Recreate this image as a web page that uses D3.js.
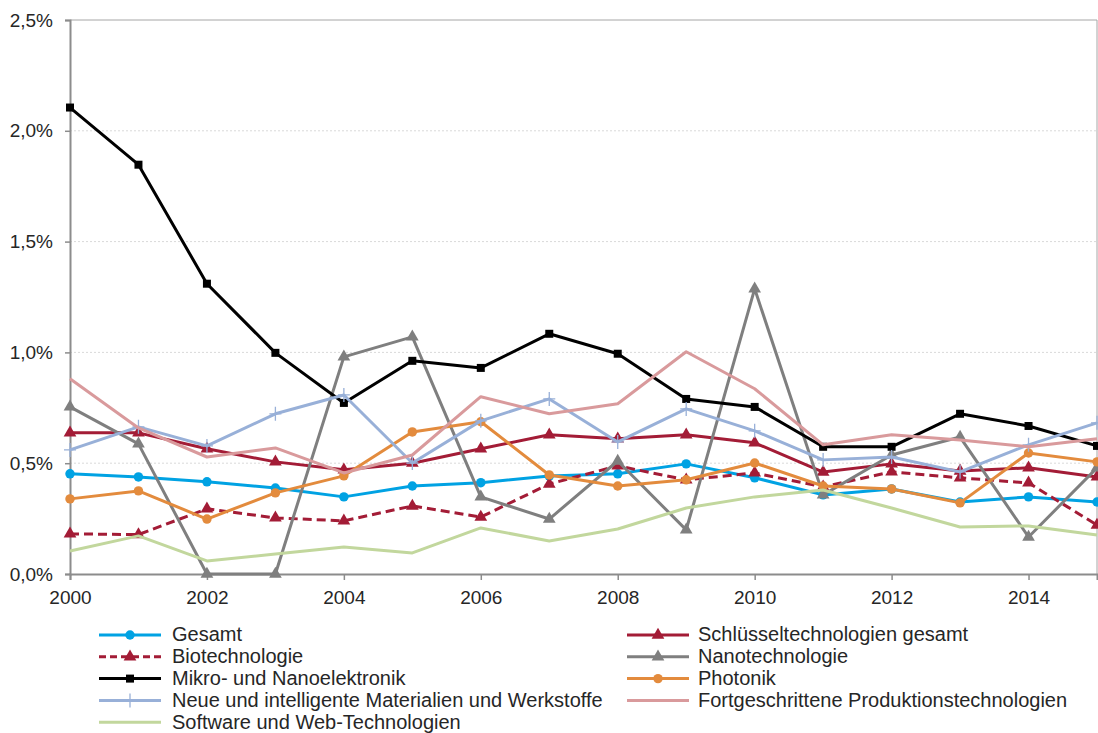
<!DOCTYPE html>
<html lang="de">
<head>
<meta charset="UTF-8">
<title>Schlüsseltechnologien</title>
<script src="https://cdn.jsdelivr.net/npm/d3@7/dist/d3.min.js"></script>
<style>
  body { margin: 0; background: #fff; }
  text { font-family: "Liberation Sans", Arial, sans-serif; }
</style>
</head>
<body>
<script>
// Jahre und Werte (in %)
let years = d3.range(2000, 2016);
let gesamt       = [0.452, 0.438, 0.416, 0.388, 0.348, 0.397, 0.412, 0.442, 0.452, 0.497, 0.434, 0.357, 0.384, 0.325, 0.348, 0.325];
let schluessel   = [0.637, 0.637, 0.565, 0.506, 0.470, 0.500, 0.565, 0.628, 0.610, 0.628, 0.592, 0.460, 0.497, 0.465, 0.479, 0.438];
let biotech      = [0.181, 0.178, 0.294, 0.253, 0.240, 0.307, 0.257, 0.406, 0.488, 0.425, 0.456, 0.393, 0.461, 0.434, 0.411, 0.221];
let nanotech     = [0.754, 0.587, 0.000, 0.000, 0.980, 1.070, 0.348, 0.248, 0.510, 0.199, 1.287, 0.357, 0.537, 0.618, 0.167, 0.479];
let mikro        = [2.105, 1.847, 1.310, 0.998, 0.772, 0.962, 0.930, 1.084, 0.994, 0.790, 0.754, 0.574, 0.574, 0.723, 0.668, 0.578];
let photonik     = [0.339, 0.375, 0.248, 0.366, 0.443, 0.641, 0.687, 0.447, 0.397, 0.425, 0.501, 0.397, 0.384, 0.321, 0.546, 0.506];
let materialien  = [0.560, 0.664, 0.578, 0.723, 0.808, 0.501, 0.691, 0.790, 0.596, 0.745, 0.646, 0.515, 0.528, 0.461, 0.583, 0.682];
let produktion   = [0.881, 0.659, 0.528, 0.569, 0.456, 0.537, 0.800, 0.723, 0.768, 1.003, 0.836, 0.583, 0.628, 0.605, 0.574, 0.610];
let software     = [0.104, 0.172, 0.059, 0.090, 0.122, 0.095, 0.208, 0.149, 0.203, 0.298, 0.348, 0.379, 0.298, 0.212, 0.217, 0.176];

let yTicks = [0, 0.5, 1.0, 1.5, 2.0, 2.5];
let xTicks = [2000, 2002, 2004, 2006, 2008, 2010, 2012, 2014];

// Reihen: Name, Werte, Farbe, Marker, gestrichelt
let series = [
    {name: 'Gesamt', values: gesamt, color: '#00a2e3', marker: 'circle', dash: false},
    {name: 'Schlüsseltechnologien gesamt', values: schluessel, color: '#a31c36', marker: 'triangle', dash: false},
    {name: 'Biotechnologie', values: biotech, color: '#a31c36', marker: 'triangle', dash: true},
    {name: 'Nanotechnologie', values: nanotech, color: '#7f7f7f', marker: 'triangle', dash: false},
    {name: 'Mikro- und Nanoelektronik', values: mikro, color: '#000000', marker: 'square', dash: false},
    {name: 'Photonik', values: photonik, color: '#e38b3d', marker: 'circle', dash: false},
    {name: 'Neue und intelligente Materialien und Werkstoffe', values: materialien, color: '#98b0d8', marker: 'plus', dash: false},
    {name: 'Fortgeschrittene Produktionstechnologien', values: produktion, color: '#d99a9c', marker: 'none', dash: false},
    {name: 'Software und Web-Technologien', values: software, color: '#c2d79d', marker: 'none', dash: false}
];

let width = 1098, height = 733;
let margin = {left: 70, right: 1, top: 20, bottom: 159};

let svg = d3.select('body').append('svg')
    .attr('width', width)
    .attr('height', height);

let x = d3.scaleLinear().domain([2000, 2015]).range([margin.left, width - margin.right]);
let y = d3.scaleLinear().domain([0, 2.5]).range([height - margin.bottom, margin.top]);

let fmt = d => d3.format('.1f')(d).replace('.', ',') + '%';

// Gitterlinien
svg.append('g').selectAll('line')
    .data(yTicks.filter(d => d > 0 && d < 2.5))
    .enter().append('line')
    .attr('x1', x(2000)).attr('x2', x(2015))
    .attr('y1', d => y(d)).attr('y2', d => y(d))
    .attr('stroke', '#d9d9d9')
    .attr('stroke-dasharray', '2,2');

// Rahmen oben/rechts
svg.append('path')
    .attr('d', 'M' + x(2000) + ',' + y(2.5) + 'H' + x(2015) + 'V' + y(0))
    .attr('fill', 'none')
    .attr('stroke', '#a6a6a6')
    .attr('stroke-width', 1);

// Achsen
let yAxis = svg.append('g')
    .attr('transform', 'translate(' + x(2000) + ',0)')
    .call(d3.axisLeft(y).tickValues(yTicks).tickFormat(fmt).tickSize(5).tickPadding(12));
let xAxis = svg.append('g')
    .attr('transform', 'translate(0,' + y(0) + ')')
    .call(d3.axisBottom(x).tickValues(xTicks).tickFormat(d3.format('d')).tickSize(6).tickPadding(11));

[yAxis, xAxis].forEach(a => {
    a.select('.domain').attr('stroke', '#8c8c8c').attr('stroke-width', 2);
    a.selectAll('.tick line').attr('stroke', '#8c8c8c').attr('stroke-width', 1.5);
    a.selectAll('.tick text').attr('fill', '#262626').style('font-size', '19px');
});

let line = d3.line()
    .x((d, i) => x(years[i]))
    .y(d => y(d));

let markerSize = {circle: 70, triangle: 70, square: 64};
let symbolType = {circle: d3.symbolCircle, triangle: d3.symbolTriangle, square: d3.symbolSquare};

function drawMarker(g, s, px, py) {
    if (s.marker === 'none') return;
    if (s.marker === 'plus') {
        g.append('path')
            .attr('d', 'M' + (px - 6) + ',' + py + 'h12M' + px + ',' + (py - 7) + 'v14')
            .attr('stroke', s.color)
            .attr('stroke-width', 1.3);
        return;
    }
    g.append('path')
        .attr('transform', 'translate(' + px + ',' + py + ')')
        .attr('d', d3.symbol().type(symbolType[s.marker]).size(markerSize[s.marker])())
        .attr('fill', s.color);
}

series.forEach(s => {
    let g = svg.append('g');
    g.append('path')
        .datum(s.values)
        .attr('d', line)
        .attr('fill', 'none')
        .attr('stroke', s.color)
        .attr('stroke-width', 3)
        .attr('stroke-linejoin', 'round')
        .attr('stroke-dasharray', s.dash ? '9,5' : null);
    s.values.forEach((v, i) => drawMarker(g, s, x(years[i]), y(v)));
});

// Legende
let legend = svg.append('g');
series.forEach((s, i) => {
    let col = i % 2, row = Math.floor(i / 2);
    let lx = col === 0 ? 99 : 627;
    let ly = 635 + row * 21.8;
    let g = legend.append('g');
    g.append('line')
        .attr('x1', lx).attr('x2', lx + 62)
        .attr('y1', ly).attr('y2', ly)
        .attr('stroke', s.color)
        .attr('stroke-width', 3)
        .attr('stroke-dasharray', s.dash ? '7,4' : null);
    drawMarker(g, s, lx + 31, ly);
    g.append('text')
        .attr('x', col === 0 ? lx + 73 : lx + 71)
        .attr('y', ly)
        .attr('dy', '0.32em')
        .attr('fill', '#262626')
        .style('font-size', '20px')
        .text(s.name);
});
</script>
</body>
</html>
